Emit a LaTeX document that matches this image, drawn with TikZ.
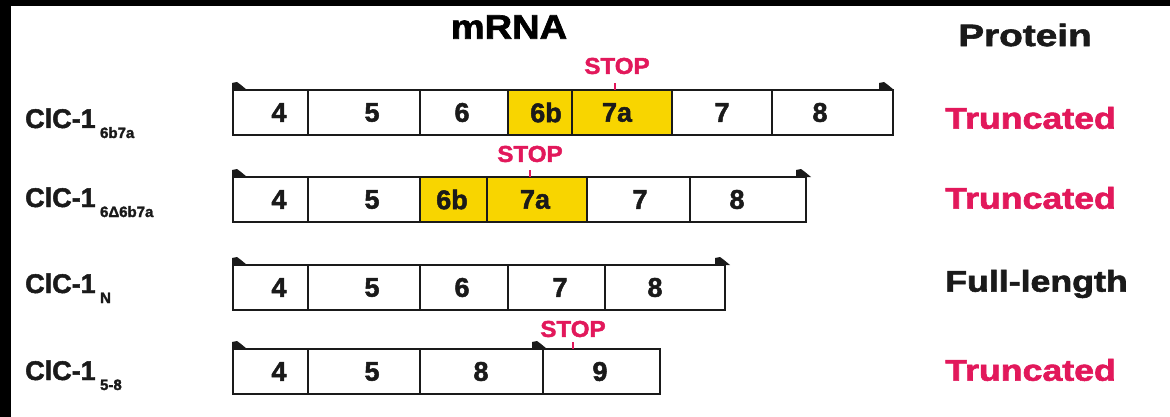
\documentclass[tikz,border=0pt]{standalone}
\usepackage{fontspec}
\setmainfont{Liberation Sans}[BoldFeatures={FakeBold=1.8}]
\definecolor{stopred}{HTML}{E2185B}
\definecolor{exonyellow}{HTML}{F8D500}
\definecolor{inkgray}{HTML}{1A1A1A}
\begin{document}
\begin{tikzpicture}[x=1pt,y=-1pt,
  outline/.style={draw=inkgray,line width=1.4pt},
  divider/.style={draw=inkgray,line width=1.2pt},
  exon/.style={inner sep=0pt,font=\fontsize{27}{27}\selectfont\bfseries,text=inkgray},
  stoplabel/.style={inner sep=0pt,xscale=1.05,font=\fontsize{23}{23}\selectfont\bfseries,text=stopred},
  stoptick/.style={draw=stopred,line width=1.8pt},
  isoform/.style={anchor=base west,inner sep=0pt,font=\fontsize{27}{27}\selectfont\bfseries,text=inkgray},
  isosub/.style={anchor=base west,inner sep=0pt,font=\fontsize{15}{15}\selectfont\bfseries,text=inkgray},
  fate/.style={anchor=west,inner sep=0pt,xscale=1.19,font=\fontsize{30}{30}\selectfont\bfseries},
  heading/.style={inner sep=0pt,font=\fontsize{34}{34}\selectfont\bfseries,text=black},
  siteflag/.pic={\fill[inkgray] (-1,0) -- (-1,-7) -- (4,-8) -- (8,-5) -- (14,0) -- cycle;}
]
\useasboundingbox (0,0) rectangle (1170,417);
\fill[white] (0,0) rectangle (1170,417);
\fill[black] (0,0) rectangle (1170,6);
\fill[black] (0,0) rectangle (11,417);

% column headings
\node[heading,xscale=1.12] (hmrna) at (509,27) {mRNA};
\node[heading,anchor=west,xscale=1.25,font=\fontsize{31}{31}\selectfont\bfseries,text=inkgray] (hprot) at (958,35) {Protein};

% ---- ClC-1 6b7a ----
\fill[exonyellow] (508,90) rectangle (672,135);
\draw[outline] (233,90) rectangle (893,135);
\foreach \x in {308,420,508,572,672,772} \draw[divider] (\x,90) -- (\x,135);
\node[exon] (a4) at (279,112.5) {4};
\node[exon] (a5) at (372,112.5) {5};
\node[exon] (a6) at (462,112.5) {6};
\node[exon] (a6b) at (546,112.5) {6b};
\node[exon] (a7a) at (617,112.5) {7a};
\node[exon] (a7) at (722,112.5) {7};
\node[exon] (a8) at (820,112.5) {8};
\pic at (233,90) {siteflag};
\pic at (880,90) {siteflag};
\node[stoplabel] (astop) at (617,66) {STOP};
\coordinate (atick) at (615,90);
\draw[stoptick] (atick) -- ++(0,-7);
\node[isoform] (aname) at (25,128) {ClC-1};
\node[isosub] (asub) at (aname.base east) [xshift=4pt,yshift=-10pt] {6b7a};
\node[fate,text=stopred] (afate) at (945,118) {Truncated};

% ---- ClC-1 6Δ6b7a ----
\fill[exonyellow] (420,177) rectangle (587,222);
\draw[outline] (233,177) rectangle (806,222);
\foreach \x in {308,420,487,587,690} \draw[divider] (\x,177) -- (\x,222);
\node[exon] (b4) at (279,199.5) {4};
\node[exon] (b5) at (372,199.5) {5};
\node[exon] (b6b) at (452,199.5) {6b};
\node[exon] (b7a) at (535,199.5) {7a};
\node[exon] (b7) at (640,199.5) {7};
\node[exon] (b8) at (737,199.5) {8};
\pic at (233,177) {siteflag};
\pic at (797,177) {siteflag};
\node[stoplabel] (bstop) at (530,154) {STOP};
\coordinate (btick) at (530,177);
\draw[stoptick] (btick) -- ++(0,-7);
\node[isoform] (bname) at (25,207) {ClC-1};
\node[isosub] (bsub) at (bname.base east) [xshift=4pt,yshift=-10pt] {6Δ6b7a};
\node[fate,text=stopred] (bfate) at (945,198) {Truncated};

% ---- ClC-1 N ----
\draw[outline] (233,265) rectangle (725,310);
\foreach \x in {308,420,508,605} \draw[divider] (\x,265) -- (\x,310);
\node[exon] (c4) at (279,287.5) {4};
\node[exon] (c5) at (372,287.5) {5};
\node[exon] (c6) at (462,287.5) {6};
\node[exon] (c7) at (560,287.5) {7};
\node[exon] (c8) at (655,287.5) {8};
\pic at (233,265) {siteflag};
\pic at (716,265) {siteflag};
\node[isoform] (cname) at (25,293) {ClC-1};
\node[isosub] (csub) at (cname.base east) [xshift=4pt,yshift=-10pt] {N};
\node[fate,text=inkgray] (cfate) at (945,284) {Full-length};

% ---- ClC-1 5-8 ----
\draw[outline] (233,349) rectangle (660,394);
\foreach \x in {308,420,543} \draw[divider] (\x,349) -- (\x,394);
\node[exon] (d4) at (279,371.5) {4};
\node[exon] (d5) at (372,371.5) {5};
\node[exon] (d8) at (481,371.5) {8};
\node[exon] (d9) at (600,371.5) {9};
\pic at (233,349) {siteflag};
\pic at (533,349) {siteflag};
\node[stoplabel] (dstop) at (573,329) {STOP};
\coordinate (dtick) at (573,349);
\draw[stoptick] (dtick) -- ++(0,-7);
\node[isoform] (dname) at (25,380) {ClC-1};
\node[isosub] (dsub) at (dname.base east) [xshift=4pt,yshift=-10pt] {5-8};
\node[fate,text=stopred] (dfate) at (945,370) {Truncated};
\end{tikzpicture}
\end{document}
